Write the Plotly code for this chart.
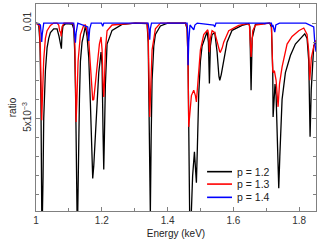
import plotly.graph_objects as go

# ---- data ----
energy_p12 = [1.000, 1.008, 1.012, 1.015, 1.0175, 1.0195, 1.0215, 1.0235, 1.0286, 1.0336, 1.0387, 1.0438, 1.0539, 1.0640,
              1.0700, 1.0720, 1.0745, 1.0772, 1.0790, 1.0820, 1.0900, 1.1100,
              1.1147, 1.1177, 1.1205, 1.1230, 1.1248, 1.1268, 1.1290, 1.1320, 1.1350, 1.1400, 1.1451, 1.1502,
              1.1552, 1.1603, 1.1653, 1.1704, 1.1724, 1.1755, 1.1805, 1.1856, 1.1907, 1.1977, 1.2008, 1.2038, 1.2059,
              1.2079, 1.2109, 1.2160, 1.2312, 1.2616, 1.3021,
              1.3376, 1.3410, 1.3435, 1.3457, 1.3475, 1.3500, 1.3528, 1.3580, 1.3629, 1.3781, 1.4000,
              1.4541, 1.4592, 1.4622, 1.4650, 1.4670, 1.4720, 1.4760, 1.4815, 1.4845, 1.4875, 1.4905, 1.4946, 1.4997,
              1.5048, 1.5149, 1.5200, 1.5240, 1.5270, 1.5300, 1.5351, 1.5433, 1.5503, 1.5560, 1.5585, 1.5630, 1.5706,
              1.5807, 1.5959, 1.6263, 1.6466,
              1.6500, 1.6537, 1.6570, 1.6669, 1.7100,
              1.7155, 1.7195, 1.7206, 1.7230, 1.7265, 1.7297, 1.7340, 1.7378, 1.7410, 1.7479, 1.7580, 1.7732, 1.7884,
              1.8087, 1.8168, 1.8239, 1.8290, 1.8330, 1.8365, 1.8441, 1.8510]
ratio_p12 = [0.01000, 0.00997, 0.00900, 0.00600, 0.00000, 0.00000, 0.00200, 0.00500, 0.00750, 0.00870, 0.00920, 0.00950, 0.00970, 0.00970,
             0.00930, 0.00910, 0.00905, 0.00866, 0.00940, 0.00985, 0.00997, 0.00995,
             0.00970, 0.00850, 0.00600, 0.00200, 0.00000, 0.00000, 0.00300, 0.00600, 0.00800, 0.00900, 0.00940, 0.00985,
             0.00930, 0.00820, 0.00580, 0.00300, 0.00186, 0.00250, 0.00420, 0.00600, 0.00740, 0.00848, 0.00780, 0.00420, 0.00233,
             0.00400, 0.00680, 0.00890, 0.00962, 0.00993, 0.01000,
             0.00997, 0.00900, 0.00550, 0.00000, 0.00000, 0.00400, 0.00700, 0.00880, 0.00940, 0.00985, 0.01000,
             0.01000, 0.00970, 0.00800, 0.00450, 0.00000, 0.00000, 0.00200, 0.00325, 0.00250, 0.00163, 0.00350, 0.00630, 0.00800,
             0.00880, 0.00930, 0.00955, 0.00900, 0.00683, 0.00880, 0.00940, 0.00950, 0.00850, 0.00720, 0.00700, 0.00730, 0.00800,
             0.00900, 0.00962, 0.00988, 0.00997,
             0.00980, 0.00648, 0.00920, 0.00993, 0.01000,
             0.00980, 0.00750, 0.00508, 0.00600, 0.00680, 0.00620, 0.00350, 0.00134, 0.00300, 0.00600, 0.00740, 0.00830, 0.00890,
             0.00930, 0.00944, 0.00920, 0.00800, 0.00404, 0.00650, 0.00880, 0.00900]

energy_p13 = [1.000, 1.0103, 1.0134, 1.0164, 1.0174, 1.0190, 1.0235, 1.0286, 1.0336, 1.0438, 1.0539, 1.0640,
              1.0690, 1.0720, 1.0750, 1.0765, 1.0790, 1.0850, 1.1100,
              1.1147, 1.1177, 1.1205, 1.1218, 1.1240, 1.1279, 1.1350, 1.1451, 1.1502,
              1.1552, 1.1603, 1.1653, 1.1704, 1.1724, 1.1755, 1.1785, 1.1856, 1.1927, 1.1977, 1.2008, 1.2038, 1.2059,
              1.2079, 1.2109, 1.2160, 1.2312, 1.3000,
              1.3376, 1.3410, 1.3440, 1.3457, 1.3475, 1.3528, 1.3629, 1.3781,
              1.4541, 1.4592, 1.4622, 1.4642, 1.4663, 1.4723, 1.4794, 1.4845, 1.4875, 1.4920, 1.4997, 1.5098, 1.5220,
              1.5250, 1.5270, 1.5300, 1.5351, 1.5433, 1.5503, 1.5585, 1.5605, 1.5660, 1.5706, 1.5858, 1.6162, 1.6415,
              1.6486, 1.6537, 1.6588, 1.6669, 1.7100,
              1.7155, 1.7195, 1.7206, 1.7246, 1.7297, 1.7358, 1.7400, 1.7479, 1.7631, 1.7783, 1.7986, 1.8138, 1.8239,
              1.8290, 1.8320, 1.8370, 1.8411, 1.8472, 1.8510]
ratio_p13 = [0.01000, 0.00985, 0.00850, 0.00600, 0.00491, 0.00580, 0.00810, 0.00920, 0.00960, 0.00988, 0.01000, 0.01000,
             0.00990, 0.00960, 0.00950, 0.00930, 0.00980, 0.01000, 0.01000,
             0.00990, 0.00920, 0.00650, 0.00482, 0.00580, 0.00800, 0.00940, 0.00988, 0.00990,
             0.00960, 0.00910, 0.00770, 0.00610, 0.00596, 0.00600, 0.00650, 0.00770, 0.00890, 0.00927, 0.00860, 0.00680, 0.00613,
             0.00680, 0.00860, 0.00960, 0.00990, 0.01000,
             0.01000, 0.00930, 0.00620, 0.00508, 0.00600, 0.00860, 0.00970, 0.01000,
             0.01000, 0.00980, 0.00780, 0.00456, 0.00500, 0.00620, 0.00648, 0.00620, 0.00587, 0.00700, 0.00860, 0.00940, 0.00965,
             0.00940, 0.00848, 0.00920, 0.00960, 0.00950, 0.00900, 0.00850, 0.00848, 0.00870, 0.00900, 0.00960, 0.00988, 0.00997,
             0.00990, 0.00822, 0.00960, 0.00990, 0.01000,
             0.00990, 0.00750, 0.00744, 0.00750, 0.00700, 0.00561, 0.00680, 0.00770, 0.00890, 0.00930, 0.00960, 0.00974, 0.00940,
             0.00850, 0.00700, 0.00820, 0.00860, 0.00900, 0.00910]

energy_p14 = [1.000, 1.0134, 1.0164, 1.0174, 1.0190, 1.0235, 1.1147, 1.1177, 1.1198, 1.1220, 1.1270,
              1.1573, 1.1603, 1.1633, 1.1680, 1.1990, 1.2028, 1.2060, 1.3406, 1.3440, 1.3457, 1.3475, 1.3510,
              1.4592, 1.4610, 1.4622, 1.4642, 1.4680, 1.4723, 1.4765, 1.4794, 1.4830, 1.4900, 1.5400, 1.5433, 1.5470,
              1.6940, 1.6953, 1.6970, 1.7155, 1.7175, 1.7200, 1.7256, 1.7290, 1.7400, 1.8200, 1.8350, 1.8441, 1.8472, 1.8510]
ratio_p14 = [0.01000, 0.00990, 0.00930, 0.00901, 0.00940, 0.01000, 0.01000, 0.00940, 0.00897, 0.00950, 0.01000,
             0.00980, 0.00906, 0.00970, 0.01000, 0.01000, 0.00983, 0.01000, 0.01000, 0.00960, 0.00913, 0.00970, 0.01000,
             0.01000, 0.00950, 0.00779, 0.00900, 0.00990, 0.00980, 0.00970, 0.00965, 0.00990, 0.01000, 0.00990, 0.00980, 0.01000,
             0.01000, 0.00995, 0.01000, 0.01000, 0.00980, 0.00990, 0.00953, 0.00990, 0.01000, 0.01000, 0.00990, 0.00980, 0.00900, 0.00850]

series_names = ["p = 1.2", "p = 1.3", "p = 1.4"]
series_colors = ["#000000", "#ff0000", "#0000ff"]

x_ticks = [1.0, 1.2, 1.4, 1.6, 1.8]
x_tick_text = ["1", "1.2", "1.4", "1.6", "1.8"]
y_ticks = [0.005, 0.01]
y_tick_text = ["5x10<sup>−3</sup>", "0.01"]

FONT = "Liberation Sans, Arial, sans-serif"

fig = go.Figure()
for xs, ys, name, col in zip([energy_p12, energy_p13, energy_p14],
                             [ratio_p12, ratio_p13, ratio_p14],
                             series_names, series_colors):
    fig.add_trace(go.Scatter(x=xs, y=ys, mode="lines", name=name, showlegend=False,
                             line=dict(color=col, width=1.3)))

# manual legend (compact rows like the reference)
legend_rows_y = [0.19, 0.13, 0.066]
for name, col, yy in zip(series_names, series_colors, legend_rows_y):
    fig.add_shape(type="line", xref="paper", yref="paper", x0=0.611, x1=0.70, y0=yy, y1=yy,
                  line=dict(color=col, width=1.6))
    fig.add_annotation(xref="paper", yref="paper", x=0.712, y=yy, text=name, showarrow=False,
                       xanchor="left", yanchor="middle",
                       font=dict(family=FONT, size=10.5, color="#222222"))

axis_common = dict(showline=True, linecolor="#808080", linewidth=1, mirror="ticks",
                   ticks="inside", tickcolor="#808080", ticklen=4, showgrid=False, zeroline=False,
                   tickfont=dict(family=FONT, size=10, color="#333333"))

fig.update_xaxes(range=[1.0, 1.851], tickvals=x_ticks, ticktext=x_tick_text,
                 title=dict(text="Energy (keV)", font=dict(family=FONT, size=10, color="#222222"), standoff=4),
                 minor=dict(dtick=0.1, ticklen=3, tickcolor="#808080", ticks="inside"),
                 **axis_common)
fig.update_yaxes(range=[0.00015, 0.011], tickvals=y_ticks, ticktext=y_tick_text, tickangle=-90,
                 title=dict(text="ratio", font=dict(family=FONT, size=10, color="#222222"), standoff=2),
                 minor=dict(dtick=0.001, tick0=0, ticklen=3, tickcolor="#808080", ticks="inside"),
                 **axis_common)

fig.update_layout(width=319, height=241, margin=dict(l=36, r=3, t=4, b=30),
                  plot_bgcolor="white", paper_bgcolor="white", showlegend=False)

fig.write_html("out.html", config={"displayModeBar": False},
               post_script="document.body.style.margin='0';")
